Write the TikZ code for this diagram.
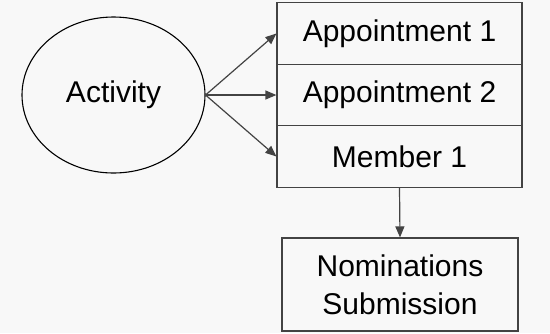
\documentclass[tikz,border=0pt]{standalone}
\usepackage{fontspec}
\setmainfont{Liberation Sans}
\usetikzlibrary{shapes.geometric,arrows.meta}
\definecolor{bg}{RGB}{248,248,248}
\definecolor{ln}{RGB}{67,67,67}
\begin{document}
\begin{tikzpicture}[x=1bp,y=-1bp,
  every node/.style={font=\fontsize{30bp}{38bp}\selectfont, inner sep=0pt},
  cell/.style={draw=ln, line width=1.2bp, minimum width=245bp, minimum height=61.5bp, fill=bg},
  oval/.style={ellipse, draw=black, line width=1.1bp, minimum width=183bp, minimum height=156bp},
  conn/.style={draw=ln, line width=1.2bp, -{Triangle[length=11bp,width=9bp]}}]
\fill[bg] (0,0) rectangle (550,333);
\useasboundingbox (0,0) rectangle (550,333);
\node[oval] (act) at (113.5,95) {Activity};
\node[cell] (a1) at (399.5,33.5) {Appointment 1};
\node[cell] (a2) at (399.5,95) {Appointment 2};
\node[cell] (m1) at (399.5,156.5) {Member 1};
\node[cell, minimum width=236bp, minimum height=93bp, align=center] (nom) at (400,284.5) {Nominations\\Submission};
\draw[conn] (act.east) -- (a1.west);
\draw[conn] (act.east) -- (a2.west);
\draw[conn] (act.east) -- (m1.west);
\draw[conn] (m1.south) -- (nom.north);
\end{tikzpicture}
\end{document}
